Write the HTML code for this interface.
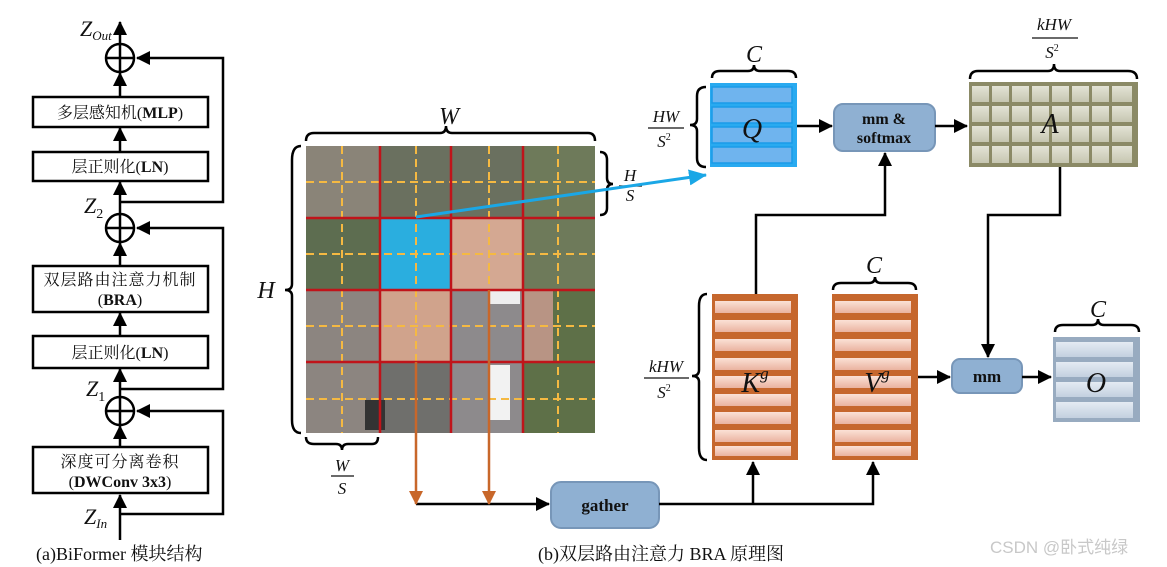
<!DOCTYPE html>
<html><head><meta charset="utf-8"><style>
html,body{margin:0;padding:0;background:#fff;}
svg{display:block;}
text{font-family:"Liberation Serif","Noto Serif CJK SC",serif;}
.cj{font-family:"Liberation Serif","Noto Serif CJK SC",serif;}
</style></head><body>
<svg width="1167" height="567" viewBox="0 0 1167 567" xmlns="http://www.w3.org/2000/svg">
<defs>
<marker id="ab2" markerWidth="14" markerHeight="14" refX="13" refY="7" orient="auto" markerUnits="userSpaceOnUse"><path d="M0,0 L14,7 L0,14 z" fill="#000"/></marker>
<marker id="ao" markerWidth="14" markerHeight="14" refX="13" refY="7" orient="auto" markerUnits="userSpaceOnUse"><path d="M0,0 L14,7 L0,14 z" fill="#c8672a"/></marker>
<marker id="ac" markerWidth="18" markerHeight="16" refX="17" refY="8" orient="auto" markerUnits="userSpaceOnUse"><path d="M0,0 L18,8 L0,16 z" fill="#1aa7e6"/></marker>
<linearGradient id="go" x1="0" y1="0" x2="0" y2="1"><stop offset="0" stop-color="#fbe1d6"/><stop offset="1" stop-color="#eab3a0"/></linearGradient>
<linearGradient id="gg" x1="0" y1="0" x2="0" y2="1"><stop offset="0" stop-color="#e3e3d5"/><stop offset="1" stop-color="#c6c6b1"/></linearGradient>
<linearGradient id="gs" x1="0" y1="0" x2="0" y2="1"><stop offset="0" stop-color="#e4ebf3"/><stop offset="1" stop-color="#c3d0df"/></linearGradient>
</defs>

<!-- ===== Left panel ===== -->
<g stroke="#000" stroke-width="2.5" fill="none">
<line x1="120" y1="540" x2="120" y2="495" marker-end="url(#ab2)"/>
<line x1="120" y1="447" x2="120" y2="426" marker-end="url(#ab2)"/>
<line x1="120" y1="396" x2="120" y2="369" marker-end="url(#ab2)"/>
<line x1="120" y1="335" x2="120" y2="313" marker-end="url(#ab2)"/>
<line x1="120" y1="266" x2="120" y2="243" marker-end="url(#ab2)"/>
<line x1="120" y1="213" x2="120" y2="182" marker-end="url(#ab2)"/>
<line x1="120" y1="152" x2="120" y2="128" marker-end="url(#ab2)"/>
<line x1="120" y1="96" x2="120" y2="73" marker-end="url(#ab2)"/>
<line x1="120" y1="43" x2="120" y2="22" marker-end="url(#ab2)"/>
<polyline points="120,514 223,514 223,411 137,411" marker-end="url(#ab2)"/>
<polyline points="120,389 223,389 223,228 137,228" marker-end="url(#ab2)"/>
<polyline points="120,202 223,202 223,58 137,58" marker-end="url(#ab2)"/>
<circle cx="120" cy="58" r="14"/><line x1="106" y1="58" x2="134" y2="58"/><line x1="120" y1="44" x2="120" y2="72"/>
<circle cx="120" cy="228" r="14"/><line x1="106" y1="228" x2="134" y2="228"/><line x1="120" y1="214" x2="120" y2="242"/>
<circle cx="120" cy="411" r="14"/><line x1="106" y1="411" x2="134" y2="411"/><line x1="120" y1="397" x2="120" y2="425"/>
</g>
<g fill="#fff" stroke="#000" stroke-width="2.5">
<rect x="33" y="97" width="175" height="30"/>
<rect x="33" y="152" width="175" height="29"/>
<rect x="33" y="266" width="175" height="46"/>
<rect x="33" y="336" width="175" height="32"/>
<rect x="33" y="447" width="175" height="46"/>
</g>
<g class="cj" font-size="16" text-anchor="middle" fill="#111">
<text x="120" y="118">多层感知机(<tspan font-weight="bold" font-family="Liberation Serif">MLP</tspan>)</text>
<text x="120" y="172">层正则化(<tspan font-weight="bold" font-family="Liberation Serif">LN</tspan>)</text>
<text x="120" y="285" letter-spacing="1">双层路由注意力机制</text>
<text x="120" y="305">(<tspan font-weight="bold" font-family="Liberation Serif">BRA</tspan>)</text>
<text x="120" y="358">层正则化(<tspan font-weight="bold" font-family="Liberation Serif">LN</tspan>)</text>
<text x="120" y="467" letter-spacing="1">深度可分离卷积</text>
<text x="120" y="487">(<tspan font-weight="bold" font-family="Liberation Serif">DWConv 3x3</tspan>)</text>
</g>
<g font-style="italic" font-size="22" fill="#111">
<text x="80" y="36">Z<tspan font-size="13" dy="4">Out</tspan></text>
<text x="84" y="213">Z<tspan font-size="14" dy="5" font-style="normal">2</tspan></text>
<text x="86" y="396">Z<tspan font-size="14" dy="5" font-style="normal">1</tspan></text>
<text x="84" y="524">Z<tspan font-size="13" dy="4">In</tspan></text>
</g>
<text class="cj" x="36" y="560" font-size="18" fill="#111">(a)BiFormer 模块结构</text>

<!-- ===== Photo ===== -->
<g>
<rect x="306" y="146" width="289" height="287" fill="#7b7d72"/>
<rect x="306" y="146" width="74" height="72" fill="#8a8478"/>
<rect x="306" y="218" width="74" height="72" fill="#5d6d50"/>
<rect x="306" y="290" width="74" height="143" fill="#8c8580"/>
<rect x="380" y="146" width="143" height="72" fill="#6a705f"/>
<rect x="523" y="146" width="72" height="144" fill="#6e7a5a"/>
<rect x="523" y="290" width="72" height="143" fill="#5e7048"/>
<rect x="451" y="290" width="72" height="143" fill="#8d8a8c"/>
<rect x="380" y="362" width="71" height="71" fill="#6f6f6c"/>
<rect x="451" y="218" width="72" height="72" fill="#d4a892"/>
<rect x="380" y="290" width="71" height="72" fill="#d0a38c"/>
<rect x="523" y="290" width="30" height="72" fill="#b89484"/>
<rect x="380" y="218" width="71" height="72" fill="#2aaedf"/>
<rect x="490" y="290" width="30" height="14" fill="#eee"/>
<rect x="490" y="365" width="20" height="55" fill="#f2f2f2"/>
<rect x="365" y="400" width="20" height="30" fill="#333"/>
<g stroke="#f5b942" stroke-width="2" stroke-dasharray="8,5">
<line x1="342" y1="146" x2="342" y2="433"/><line x1="416" y1="146" x2="416" y2="433"/>
<line x1="489" y1="146" x2="489" y2="433"/><line x1="558" y1="146" x2="558" y2="433"/>
<line x1="306" y1="182" x2="595" y2="182"/><line x1="306" y1="254" x2="595" y2="254"/>
<line x1="306" y1="326" x2="595" y2="326"/><line x1="306" y1="399" x2="595" y2="399"/>
</g>
<g stroke="#c0141a" stroke-width="2.5">
<line x1="380" y1="146" x2="380" y2="433"/><line x1="451" y1="146" x2="451" y2="433"/><line x1="523" y1="146" x2="523" y2="433"/>
<line x1="306" y1="218" x2="595" y2="218"/><line x1="306" y1="290" x2="595" y2="290"/><line x1="306" y1="362" x2="595" y2="362"/>
</g>
</g>
<!-- braces -->
<g stroke="#000" stroke-width="2.5" fill="none">
<path d="M306,141 Q306,133 314,133 L440,133 Q446,133 446,126 Q446,133 452,133 L588,133 Q595,133 595,141"/>
<path d="M301,146 Q292,146 292,160 L292,284 Q292,290 285,290 Q292,290 292,296 L292,420 Q292,433 301,433"/>
<path d="M600,152 Q607,152 607,160 L607,178 Q607,184 613,184 Q607,184 607,190 L607,208 Q607,215 600,215"/>
<path d="M306,437 Q306,444 314,444 L336,444 Q342,444 342,450 Q342,444 348,444 L372,444 Q378,444 378,437"/>
<path d="M712,78 Q712,71 720,71 L748,71 Q754,71 754,65 Q754,71 760,71 L788,71 Q796,71 796,78"/>
<path d="M706,87 Q697,87 697,96 L697,119 Q697,125 690,125 Q697,125 697,131 L697,158 Q697,167 706,167"/>
<path d="M970,79 Q970,71 978,71 L1048,71 Q1054,71 1054,64 Q1054,71 1060,71 L1128,71 Q1137,71 1137,79"/>
<path d="M707,294 Q699,294 699,306 L699,370 Q699,376 692,376 Q699,376 699,382 L699,448 Q699,460 707,460"/>
<path d="M833,290 Q833,283 841,283 L869,283 Q875,283 875,277 Q875,283 881,283 L908,283 Q916,283 916,290"/>
<path d="M1055,332 Q1055,325 1063,325 L1092,325 Q1098,325 1098,319 Q1098,325 1104,325 L1131,325 Q1139,325 1139,332"/>
</g>
<g font-style="italic" fill="#111" text-anchor="middle">
<text x="449" y="124" font-size="24">W</text>
<text x="266" y="298" font-size="24">H</text>
<text x="754" y="62" font-size="24">C</text>
<text x="874" y="273" font-size="24">C</text>
<text x="1098" y="317" font-size="24">C</text>
</g>
<!-- fractions -->
<g font-style="italic" fill="#111" text-anchor="middle" font-size="17">
<text x="630" y="181">H</text><line x1="619" y1="186" x2="642" y2="186" stroke="#111" stroke-width="1.3"/><text x="630" y="201">S</text>
<text x="342" y="471">W</text><line x1="331" y1="476" x2="354" y2="476" stroke="#111" stroke-width="1.3"/><text x="342" y="494">S</text>
<text x="666" y="122">HW</text><line x1="648" y1="128" x2="684" y2="128" stroke="#111" stroke-width="1.3"/><text x="664" y="147">S<tspan font-size="10" dy="-7" font-style="normal">2</tspan></text>
<text x="1054" y="30">kHW</text><line x1="1032" y1="38" x2="1078" y2="38" stroke="#111" stroke-width="1.3"/><text x="1052" y="58">S<tspan font-size="10" dy="-7" font-style="normal">2</tspan></text>
<text x="666" y="372">kHW</text><line x1="644" y1="378" x2="689" y2="378" stroke="#111" stroke-width="1.3"/><text x="664" y="398">S<tspan font-size="10" dy="-7" font-style="normal">2</tspan></text>
</g>

<!-- Q -->
<rect x="710" y="83" width="87" height="84" fill="#29aaf0"/>
<g fill="#6fb4ee" stroke="#1a9be8" stroke-width="1.5">
<rect x="712" y="87" width="80" height="16"/><rect x="712" y="107" width="80" height="16"/>
<rect x="712" y="127" width="80" height="16"/><rect x="712" y="147" width="80" height="16"/>
</g>
<text x="752" y="138" font-size="28" font-style="italic" text-anchor="middle" fill="#111">Q</text>

<!-- A grid -->
<rect x="969" y="82" width="169" height="85" fill="#8b8a66"/>
<g fill="url(#gg)">
<rect x="972" y="86" width="17" height="16"/><rect x="992" y="86" width="17" height="16"/><rect x="1012" y="86" width="17" height="16"/><rect x="1032" y="86" width="17" height="16"/><rect x="1052" y="86" width="17" height="16"/><rect x="1072" y="86" width="17" height="16"/><rect x="1092" y="86" width="17" height="16"/><rect x="1112" y="86" width="20" height="16"/>
<rect x="972" y="106" width="17" height="16"/><rect x="992" y="106" width="17" height="16"/><rect x="1012" y="106" width="17" height="16"/><rect x="1032" y="106" width="17" height="16"/><rect x="1052" y="106" width="17" height="16"/><rect x="1072" y="106" width="17" height="16"/><rect x="1092" y="106" width="17" height="16"/><rect x="1112" y="106" width="20" height="16"/>
<rect x="972" y="126" width="17" height="16"/><rect x="992" y="126" width="17" height="16"/><rect x="1012" y="126" width="17" height="16"/><rect x="1032" y="126" width="17" height="16"/><rect x="1052" y="126" width="17" height="16"/><rect x="1072" y="126" width="17" height="16"/><rect x="1092" y="126" width="17" height="16"/><rect x="1112" y="126" width="20" height="16"/>
<rect x="972" y="146" width="17" height="17"/><rect x="992" y="146" width="17" height="17"/><rect x="1012" y="146" width="17" height="17"/><rect x="1032" y="146" width="17" height="17"/><rect x="1052" y="146" width="17" height="17"/><rect x="1072" y="146" width="17" height="17"/><rect x="1092" y="146" width="17" height="17"/><rect x="1112" y="146" width="20" height="17"/>
</g>
<text x="1050" y="133" font-size="28" font-style="italic" text-anchor="middle" fill="#111">A</text>

<!-- K and V -->
<rect x="712" y="294" width="86" height="166" fill="#c6672d"/>
<rect x="832" y="294" width="86" height="166" fill="#c6672d"/>
<g fill="url(#go)">
<rect x="715" y="301" width="76" height="12"/><rect x="715" y="320" width="76" height="12"/><rect x="715" y="339" width="76" height="12"/><rect x="715" y="358" width="76" height="12"/><rect x="715" y="376" width="76" height="12"/><rect x="715" y="394" width="76" height="12"/><rect x="715" y="412" width="76" height="12"/><rect x="715" y="430" width="76" height="12"/><rect x="715" y="446" width="76" height="10"/>
<rect x="835" y="301" width="76" height="12"/><rect x="835" y="320" width="76" height="12"/><rect x="835" y="339" width="76" height="12"/><rect x="835" y="358" width="76" height="12"/><rect x="835" y="376" width="76" height="12"/><rect x="835" y="394" width="76" height="12"/><rect x="835" y="412" width="76" height="12"/><rect x="835" y="430" width="76" height="12"/><rect x="835" y="446" width="76" height="10"/>
</g>
<text x="755" y="392" font-size="28" font-style="italic" text-anchor="middle" fill="#111">K<tspan font-size="17" dy="-13">g</tspan></text>
<text x="877" y="392" font-size="28" font-style="italic" text-anchor="middle" fill="#111">V<tspan font-size="17" dy="-13">g</tspan></text>

<!-- O -->
<rect x="1053" y="337" width="87" height="85" fill="#98abc0"/>
<g fill="url(#gs)">
<rect x="1056" y="342" width="77" height="15"/><rect x="1056" y="362" width="77" height="15"/><rect x="1056" y="382" width="77" height="15"/><rect x="1056" y="402" width="77" height="16"/>
</g>
<text x="1096" y="392" font-size="28" font-style="italic" text-anchor="middle" fill="#111">O</text>

<!-- boxes -->
<rect x="834" y="104" width="101" height="47" rx="9" fill="#8fb0d2" stroke="#7796b8" stroke-width="2"/>
<text x="884" y="124" font-size="16" font-weight="bold" text-anchor="middle" fill="#111">mm &amp;</text>
<text x="884" y="143" font-size="16" font-weight="bold" text-anchor="middle" fill="#111">softmax</text>
<rect x="952" y="359" width="70" height="34" rx="8" fill="#8fb0d2" stroke="#7796b8" stroke-width="2"/>
<text x="987" y="382" font-size="17" font-weight="bold" text-anchor="middle" fill="#111">mm</text>
<rect x="551" y="482" width="108" height="46" rx="10" fill="#8fb0d2" stroke="#7796b8" stroke-width="2"/>
<text x="605" y="511" font-size="17" font-weight="bold" text-anchor="middle" fill="#111">gather</text>

<!-- connectors -->
<g stroke="#000" stroke-width="2.5" fill="none">
<line x1="797" y1="126" x2="832" y2="126" marker-end="url(#ab2)"/>
<line x1="935" y1="126" x2="967" y2="126" marker-end="url(#ab2)"/>
<polyline points="756,294 756,215 885,215 885,153" marker-end="url(#ab2)"/>
<polyline points="1060,167 1060,215 988,215 988,357" marker-end="url(#ab2)"/>
<line x1="918" y1="377" x2="950" y2="377" marker-end="url(#ab2)"/>
<line x1="1022" y1="377" x2="1051" y2="377" marker-end="url(#ab2)"/>
<line x1="416" y1="504" x2="549" y2="504" marker-end="url(#ab2)"/>
<polyline points="659,504 873,504 873,462" marker-end="url(#ab2)"/>
<line x1="753" y1="504" x2="753" y2="462" marker-end="url(#ab2)"/>
</g>
<g stroke="#c8672a" stroke-width="2.5">
<line x1="416" y1="362" x2="416" y2="504" marker-end="url(#ao)"/>
<line x1="489" y1="290" x2="489" y2="504" marker-end="url(#ao)"/>
</g>
<line x1="416" y1="217" x2="706" y2="175" stroke="#1aa7e6" stroke-width="3" marker-end="url(#ac)"/>

<text class="cj" x="538" y="560" font-size="18" fill="#111">(b)双层路由注意力 BRA 原理图</text>
<text x="990" y="553" font-size="17" fill="#c8c8c8" style="font-family:'Liberation Sans','Noto Sans CJK SC',sans-serif">CSDN @卧式纯绿</text>
</svg>
</body></html>
